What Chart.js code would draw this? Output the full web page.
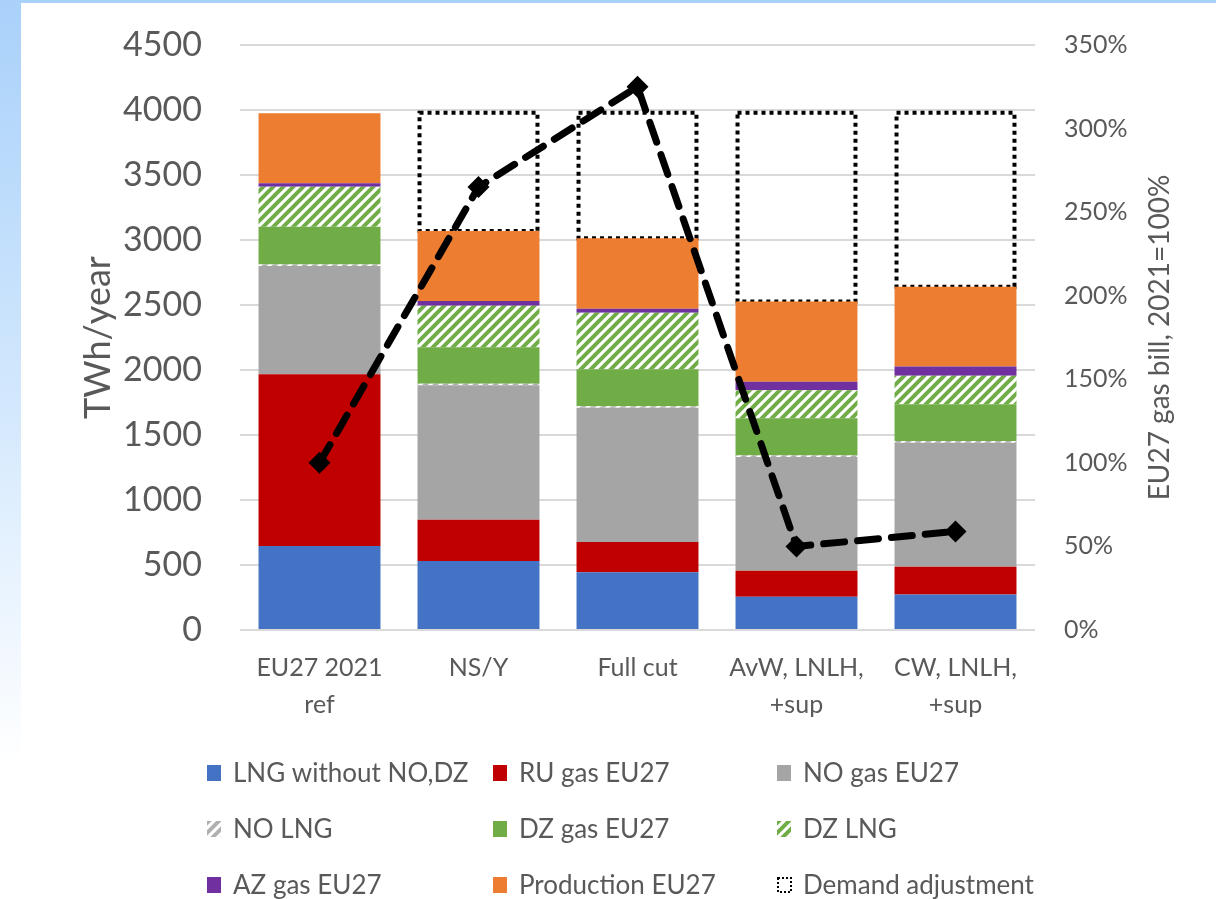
<!DOCTYPE html>
<html>
<head>
<meta charset="utf-8">
<script src="https://cdn.jsdelivr.net/npm/chart.js@4.4.0/dist/chart.umd.min.js"></script>
<style>
html, body { margin: 0; padding: 0; }
body {
    width: 1216px; height: 899px; overflow: hidden; position: relative;
    background: linear-gradient(to bottom, #a9d1fa 0%, #d3e8fd 45%, #ffffff 85%);
}
#panel { position: absolute; left: 21px; top: 3px; right: 0; bottom: 0; background: #fff; }
#myChart { position: absolute; left: 0; top: 0; }
</style>
</head>
<body>
<div id="panel"></div>
<canvas id="myChart" width="1216" height="899"></canvas>
<script>
// categories (x axis)
const categories = [['EU27 2021', 'ref'], 'NS/Y', 'Full cut', ['AvW, LNLH,', '+sup'], ['CW, LNLH,', '+sup']];

// TWh/year, stacked from the bottom
const lngWithoutNoDz = [646, 531, 444, 256, 274];
const ruGas = [1321, 317, 233, 200, 213];
const noGas = [833, 1034, 1033, 874, 954];
const noLng = [12, 12, 12, 12, 12];
const dzGas = [290, 281, 283, 286, 283];
const dzLng = [308, 320, 436, 216, 220];
const azGas = [26, 36, 31, 66, 70];
const production = [539, 538, 541, 616, 615];
const demandAdjustment = [0, 910, 966, 1453, 1338];

// EU27 gas bill, 2021 = 100%
const gasBill = [100, 265, 325, 50, 59];

const textColor = '#595959';
const ctx = document.getElementById('myChart').getContext('2d');

function hatch(color) {
    const c = document.createElement('canvas');
    c.width = 10; c.height = 10;
    const g = c.getContext('2d');
    g.fillStyle = '#fff';
    g.fillRect(0, 0, 10, 10);
    g.strokeStyle = color;
    g.lineWidth = 4;
    g.beginPath();
    g.moveTo(-5, 5); g.lineTo(5, -5);
    g.moveTo(0, 10); g.lineTo(10, 0);
    g.moveTo(5, 15); g.lineTo(15, 5);
    g.stroke();
    return ctx.createPattern(c, 'repeat');
}

// dotted outline for the demand adjustment boxes
const demandOutline = {
    id: 'demandOutline',
    afterDatasetDraw(chart, args) {
        const ds = chart.data.datasets[args.index];
        if (ds.label !== 'Demand adjustment') return;
        const c = chart.ctx;
        c.save();
        c.strokeStyle = '#000';
        c.lineWidth = 4;
        c.setLineDash([4, 4]);
        args.meta.data.forEach((bar, i) => {
            if (!ds.data[i]) return;
            const { x, y, base, width } = bar.getProps(['x', 'y', 'base', 'width'], true);
            c.strokeRect(x - width / 2 + 2, y, width - 4, base - y);
        });
        c.restore();
    }
};

// right axis title (reads bottom to top) and 3x3 legend
const extras = {
    id: 'extras',
    afterDraw(chart) {
        const c = chart.ctx;
        const s = chart.scales.y1;
        c.save();
        c.fillStyle = textColor;
        c.font = '28px Lato';
        c.textAlign = 'center';
        c.textBaseline = 'middle';
        c.translate(s.right - 56, (s.top + s.bottom) / 2);
        c.rotate(-Math.PI / 2);
        c.fillText('EU27 gas bill, 2021=100%', 0, 0);
        c.restore();

        const colX = [207, 493, 777];
        const rowY = [773, 829, 885];
        c.save();
        c.font = '26px Lato';
        c.textBaseline = 'middle';
        chart.data.datasets.filter(d => d.type === 'bar').forEach((d, i) => {
            const bx = colX[i % 3];
            const by = rowY[Math.floor(i / 3)];
            if (d.label === 'Demand adjustment') {
                c.strokeStyle = '#000';
                c.lineWidth = 2;
                c.setLineDash([2, 2]);
                c.strokeRect(bx + 1, by - 7, 13, 14);
                c.setLineDash([]);
            } else {
                c.fillStyle = d.backgroundColor;
                c.fillRect(bx, by - 8, 14, 16);
            }
            c.fillStyle = textColor;
            c.fillText(d.label, bx + 26, by + 1);
        });
        c.restore();
    }
};

function barSet(label, data, color) {
    return {
        type: 'bar', label: label, data: data, backgroundColor: color,
        stack: 'gas', yAxisID: 'y', order: 1, borderWidth: 0,
        barPercentage: 0.767, categoryPercentage: 1
    };
}

const chart = new Chart(ctx, {
    data: {
        labels: categories,
        datasets: [
            {
                type: 'line',
                label: 'EU27 gas bill',
                data: gasBill,
                yAxisID: 'y1',
                order: 0,
                borderColor: '#000',
                borderWidth: 7,
                borderDash: [21, 13],
                borderCapStyle: 'round',
                pointStyle: 'rectRot',
                pointRadius: 11,
                pointBackgroundColor: '#000',
                pointBorderWidth: 0,
                tension: 0,
            },
            barSet('LNG without NO,DZ', lngWithoutNoDz, '#4472c4'),
            barSet('RU gas EU27', ruGas, '#c00000'),
            barSet('NO gas EU27', noGas, '#a5a5a5'),
            barSet('NO LNG', noLng, hatch('#b0b0b0')),
            barSet('DZ gas EU27', dzGas, '#70ad47'),
            barSet('DZ LNG', dzLng, hatch('#70ad47')),
            barSet('AZ gas EU27', azGas, '#7030a0'),
            barSet('Production EU27', production, '#ed7d31'),
            barSet('Demand adjustment', demandAdjustment, 'rgba(0,0,0,0)'),
        ],
    },
    options: {
        responsive: false,
        animation: false,
        layout: { padding: { top: 45, left: 0, right: 0, bottom: 0 } },
        plugins: {
            legend: { display: false },
            tooltip: { enabled: false },
        },
        scales: {
            x: {
                stacked: true,
                grid: { display: false, drawTicks: false },
                border: { display: false },
                ticks: {
                    color: textColor,
                    font: { family: 'Lato', size: 25, lineHeight: 1.5 },
                    padding: 19,
                    maxRotation: 0,
                    autoSkip: false,
                },
                afterFit(scale) { scale.height = 269; },
            },
            y: {
                stacked: true,
                min: 0,
                max: 4500,
                ticks: {
                    stepSize: 500,
                    color: textColor,
                    font: { family: 'Lato', size: 34 },
                    padding: 38,
                    callback: v => String(v),
                },
                grid: { color: '#d9d9d9', lineWidth: 2, drawTicks: false },
                border: { display: false },
                title: {
                    display: true,
                    text: 'TWh/year',
                    color: textColor,
                    font: { family: 'Lato', size: 36 },
                    padding: { top: 77, bottom: 0 },
                },
                afterFit(scale) {
                    scale.width = 240;
                    scale.paddingTop = 20;
                    scale.paddingBottom = 20;
                },
            },
            y1: {
                position: 'right',
                min: 0,
                max: 350,
                ticks: {
                    stepSize: 50,
                    color: textColor,
                    font: { family: 'Lato', size: 25 },
                    padding: 29,
                    callback: v => v + '%',
                },
                grid: { display: false, drawTicks: false },
                border: { display: false },
                afterFit(scale) {
                    scale.width = 181;
                    scale.paddingTop = 15;
                    scale.paddingBottom = 15;
                },
            },
        },
    },
    plugins: [demandOutline, extras],
});
</script>
</body>
</html>
